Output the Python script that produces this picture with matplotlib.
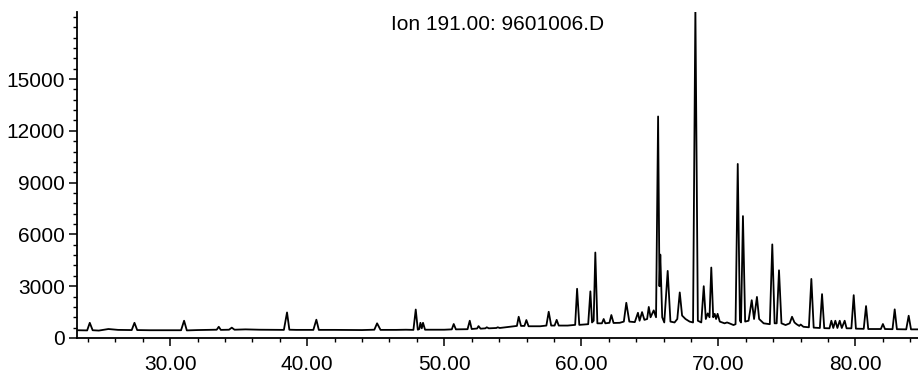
import matplotlib
matplotlib.use("Agg")
import matplotlib.pyplot as plt
from matplotlib.ticker import MultipleLocator, FixedLocator

plt.rcParams['font.family'] = ['Liberation Sans', 'DejaVu Sans']

title_text = "Ion 191.00: 9601006.D"

# Trace vertices (retention time in min, abundance)
trace_rt = [
    23.2, 23.95, 24.14, 24.35, 24.8, 25.5, 26.2, 27.2, 27.4, 27.6, 28.5, 30.8, 31.02, 31.22,
    32.0, 33.0, 33.4, 33.55, 33.7, 34.3, 34.5, 34.7, 35.5, 36.5, 38.3, 38.53, 38.7, 39.2,
    40.45, 40.67, 40.85, 42.0, 44.0, 44.9, 45.1, 45.35, 46.5, 47.2, 47.75, 47.92, 48.07,
    48.18, 48.26, 48.36, 48.45, 48.6, 50.0, 50.55, 50.69, 50.85, 51.7, 51.86, 52.0, 52.4,
    52.5, 52.65, 53.0, 53.1, 53.25, 53.8, 53.9, 54.05, 54.8, 55.3, 55.43, 55.6, 55.85,
    55.99, 56.15, 57.0, 57.45, 57.62, 57.8, 58.05, 58.2, 58.35, 59.0, 59.55, 59.69, 59.85,
    60.5, 60.66, 60.78, 60.9, 61.02, 61.17, 61.5, 61.63, 61.75, 62.05, 62.19, 62.35, 62.8,
    63.1, 63.28, 63.5, 63.9, 64.13, 64.25, 64.43, 64.6, 64.8, 64.92, 65.05, 65.28, 65.45,
    65.6, 65.7, 65.76, 65.9, 66.05, 66.3, 66.5, 66.8, 67.0, 67.18, 67.35, 67.6, 67.9,
    68.15, 68.32, 68.5, 68.75, 68.93, 69.08, 69.22, 69.35, 69.48, 69.62, 69.73, 69.83,
    69.94, 70.1, 70.45, 70.63, 70.8, 71.1, 71.25, 71.41, 71.57, 71.65, 71.79, 71.95, 72.2,
    72.43, 72.6, 72.81, 72.97, 73.3, 73.75, 73.93, 74.1, 74.25, 74.42, 74.6, 74.9, 75.2,
    75.37, 75.55, 75.7, 75.9, 76.0, 76.2, 76.6, 76.78, 76.95, 77.4, 77.56, 77.72, 78.1,
    78.24, 78.38, 78.53, 78.68, 78.85, 79.0, 79.21, 79.35, 79.7, 79.87, 80.03, 80.6, 80.77,
    80.93, 81.5, 81.85, 82.0, 82.15, 82.7, 82.86, 83.02, 83.7, 83.88, 84.05, 84.6,
]
trace_abund = [
    450, 440, 880, 450, 430, 520, 470, 460, 880, 460, 450, 450, 1000, 440,
    460, 470, 480, 650, 470, 480, 600, 480, 500, 480, 470, 1480, 480, 470,
    470, 1060, 470, 470, 460, 480, 850, 470, 470, 480, 470, 1650, 480,
    520, 880, 560, 880, 480, 480, 500, 810, 500, 510, 1000, 520, 550,
    690, 540, 560, 620, 560, 580, 620, 580, 650, 700, 1230, 700, 700,
    1040, 680, 680, 720, 1520, 720, 720, 1050, 720, 720, 760, 2850, 760,
    800, 2700, 900, 1000, 4950, 850, 850, 1100, 850, 880, 1330, 870, 880,
    950, 2040, 950, 920, 1460, 1000, 1500, 1050, 1100, 1800, 1200, 1600, 1200,
    12830, 3000, 4830, 1200, 900, 3885, 950, 900, 1100, 2640, 1300, 1100, 950,
    900, 19200, 1000, 900, 3000, 1100, 1425, 1200, 4080, 1200, 1400, 1100,
    1400, 950, 850, 900, 850, 750, 800, 10080, 1000, 900, 7060, 950, 1000,
    2190, 1100, 2380, 1100, 850, 800, 5420, 850, 850, 3920, 850, 750, 850,
    1230, 900, 800, 700, 780, 650, 620, 3420, 600, 580, 2540, 570, 560,
    1000, 580, 1000, 580, 1000, 580, 1000, 560, 560, 2480, 540, 530, 1850,
    520, 520, 520, 810, 520, 510, 1660, 510, 500, 1290, 500, 500,
]

y_ticks = [0, 3000, 6000, 9000, 12000, 15000]
x_ticks = [30, 40, 50, 60, 70, 80]
x_ticklabels = ["30.00", "40.00", "50.00", "60.00", "70.00", "80.00"]

fig = plt.figure(figsize=(9.18, 3.72), dpi=100)
ax = fig.add_axes([0.0842, 0.0914, 0.9158, 0.8763])

ax.plot(trace_rt, trace_abund, color='black', lw=1.3, solid_joinstyle='round')

ax.set_xlim(23.23, 84.56)
ax.set_ylim(0, 18880)

for s in ['top', 'right']:
    ax.spines[s].set_visible(False)
for s in ['left', 'bottom']:
    ax.spines[s].set_linewidth(1.3)

ax.yaxis.set_major_locator(FixedLocator(y_ticks))
ax.yaxis.set_minor_locator(MultipleLocator(600))
ax.xaxis.set_major_locator(FixedLocator(x_ticks))
ax.set_xticklabels(x_ticklabels)
ax.xaxis.set_minor_locator(MultipleLocator(2))

ax.tick_params(axis='both', which='major', direction='out', length=6, width=1.1,
               labelsize=15, color='black')
ax.tick_params(axis='both', which='minor', direction='out', length=3.2, width=1.0)
ax.tick_params(axis='y', which='major', pad=3)
ax.tick_params(axis='x', which='major', pad=6)

fig.text(0.5425, 1 - 25 / 372, title_text, ha='center', va='center', fontsize=15)

fig.savefig("out.png", dpi=100)
